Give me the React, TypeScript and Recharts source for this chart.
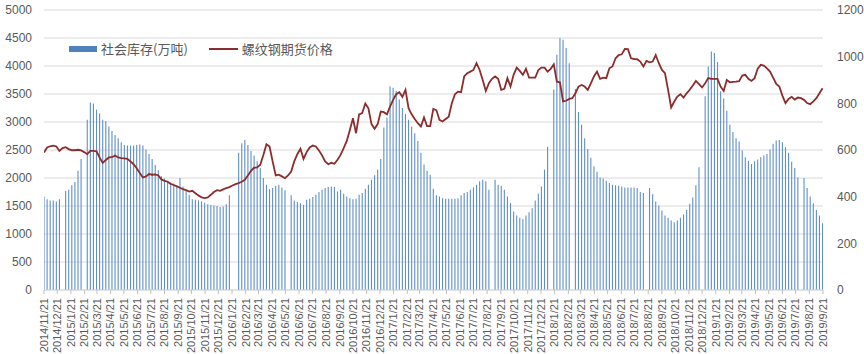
// Chart: weekly social steel inventory (bars, left axis) vs rebar futures price (line, right axis).

import { Bar, CartesianGrid, ComposedChart, Line, XAxis, YAxis } from "recharts";

const START = Date.UTC(2014, 10, 21);
const DAY = 86400000;

// 社会库存(万吨), weekly, one array per year; null = week not reported
const inv2014 = [1670, 1620, 1600, 1600, 1580, 1620];
const inv2015 = [
  null, 1770, 1790, 1870, 1930, 2130, 2340, null, 3040, 3350, 3330, 3220, 3150,
  3040, 3020, 2920, 2840, 2770, 2710, 2640, 2590, 2580, 2580, 2580, 2590, 2600,
  2580, 2510, 2430, 2340, 2230, 2140, 2030, 1990, 1950, 1920, 1900, 1870, 2000,
  1850, 1790, 1700, 1620, 1610, 1600, 1580, 1560, 1530, 1520, 1510, 1500, 1480,
];
const inv2016 = [
  1490, 1530, 1690, null, null, 2450, 2620, 2680, 2590, 2480, 2400, 2300, 2180,
  2000, 1880, 1800, 1820, 1860, 1880, 1830, 1780, null, 1690, 1600, 1570, 1550,
  1520, 1610, 1630, 1660, 1700, 1750, 1790, 1820, 1840, 1850, 1840, 1760, 1790,
  1720, 1670, 1640, 1620, 1630, 1700, 1730, 1810, 1880, 1970, 2050, 2150, 2340,
  2900,
];
const inv2017 = [
  3080, 3640, 3610, 3560, 3400, 3250, 3140, 3040, 2920, 2800, 2660, 2450, 2240,
  2130, 2060, 1810, 1690, 1670, 1640, 1630, 1630, 1630, 1630, 1640, 1690, 1730,
  1750, 1790, 1830, 1880, 1940, 1970, 1940, 1790, null, 1970, 1880, 1860, 1790,
  1670, 1550, 1400, 1330, 1290, 1270, 1330, 1390, 1460, 1600, 1720, 1850, 2150,
];
const inv2018 = [
  2560, null, 3580, 4200, 4500, 4470, 4320, 4050, null, 3590, 3180, 2950, 2710,
  2520, 2360, 2210, 2110, 2010, 1990, 1950, 1910, 1880, 1870, 1860, 1850, 1830,
  1830, 1830, 1830, 1820, 1750, 1730, null, 1820, 1710, 1580, 1510, 1420, 1330,
  1290, 1240, 1210, 1240, 1290, 1350, 1430, 1540, 1650, 1870, 2190, null, 3460,
];
const inv2019 = [
  3990, 4260, 4230, 4070, 3550, 3420, 3200, 2950, 2820, 2710, 2650, 2490, 2370,
  2310, 2250, 2300, 2330, 2370, 2400, 2430, 2510, 2610, 2670, 2680, 2640, 2550,
  2450, 2290, 2180, 2010, null, 2000, 1820, 1670, 1550, 1430, 1330, 1190,
];

// 螺纹钢期货价格, weekly, same weeks
const price2014 = [589, 611, 616, 619, 615, 596];
const price2015 = [
  608, 612, 604, 599, 599, 601, 598, 591, 582, 596, 596, 594, 568, 545, 557, 568,
  569, 576, 568, 565, 564, 562, 551, 539, 522, 501, 482, 487, 497, 494, 495, 491,
  474, 468, 464, 455, 450, 444, 438, 432, 428, 422, 425, 415, 405, 397, 394, 397,
  408, 420, 428, 425,
];
const price2016 = [
  431, 437, 441, 448, 454, 458, 464, 472, 491, 511, 524, 525, 537, 579, 625, 615,
  551, 491, 494, 487, 479, 491, 508, 551, 582, 605, 562, 591, 611, 619, 615, 598,
  577, 551, 539, 545, 541, 558, 579, 608, 639, 686, 736, 672, 753, 758, 799, 779,
  711, 691, 711, 765, 762,
];
const price2017 = [
  753, 786, 815, 839, 848, 828, 858, 779, 753, 733, 715, 701, 739, 702, 702, 776,
  771, 729, 722, 733, 743, 800, 839, 850, 848, 915, 929, 936, 943, 972, 943, 900,
  853, 886, 905, 915, 905, 858, 862, 908, 872, 922, 953, 939, 922, 948, 910, 910,
  910, 943, 953, 953,
];
const price2018 = [
  936, 948, 967, 893, 890, 808, 811, 819, 822, 843, 872, 879, 872, 858, 886, 915,
  936, 905, 910, 908, 950, 958, 993, 1007, 1010, 1033, 1032, 993, 990, 989, 979,
  958, 982, 976, 979, 1007, 972, 943, 929, 858, 782, 808, 829, 839, 825, 843, 858,
  876, 896, 882, 868, 886,
];
const price2019 = [
  908, 905, 905, 905, 872, 853, 900, 890, 892, 893, 895, 919, 922, 905, 896, 908,
  948, 965, 962, 950, 936, 910, 883, 872, 833, 801, 819, 828, 816, 825, 822, 815,
  801, 796, 808, 822, 843, 865,
];

const leftTicks = [0, 500, 1000, 1500, 2000, 2500, 3000, 3500, 4000, 4500, 5000];
const rightTicks = [0, 200, 400, 600, 800, 1000, 1200];

const inventory = [...inv2014, ...inv2015, ...inv2016, ...inv2017, ...inv2018, ...inv2019];
const price = [...price2014, ...price2015, ...price2016, ...price2017, ...price2018, ...price2019];

const data = inventory.map((v, i) => ({ d: i * 7, inv: v, price: price[i] }));

// one tick on the 21st of every month, 2014/11 .. 2019/9
const monthTicks = Array.from({ length: 59 }, (_, k) => (Date.UTC(2014, 10 + k, 21) - START) / DAY);

const fmtDate = (d: number) => {
  const dt = new Date(START + d * DAY);
  return `${dt.getUTCFullYear()}/${dt.getUTCMonth() + 1}/${dt.getUTCDate()}`;
};

const FONT = '"Liberation Sans", Arial, "Noto Sans CJK SC", sans-serif';
const GREY = "#595959";
const BLUE = "#4f81bd";
const RED = "#8b2d2d";

function DateTick({ x, payload }: any) {
  return (
    <text
      x={x}
      y={298}
      transform={`rotate(-90, ${x}, 298)`}
      textAnchor="end"
      dy="0.35em"
      fontSize={11}
      fill={GREY}
      fontFamily={FONT}
    >
      {fmtDate(payload.value)}
    </text>
  );
}

export default function App() {
  return (
    <div style={{ position: "absolute", left: 0, top: 0, width: 864, height: 354, background: "#fff" }}>
      <ComposedChart width={864} height={354} data={data} margin={{ top: 10, right: 0, bottom: 0, left: 0 }}>
        <CartesianGrid vertical={false} stroke="#d9d9d9" yAxisId="left" />
        <XAxis
          type="number"
          dataKey="d"
          domain={[0, 1765]}
          ticks={monthTicks}
          interval={0}
          height={64}
          tick={<DateTick />}
          tickSize={4}
          axisLine={{ stroke: "#d9d9d9" }}
          tickLine={{ stroke: "#bfbfbf" }}
          allowDataOverflow
        />
        <YAxis
          yAxisId="left"
          width={44}
          domain={[0, 5000]}
          ticks={leftTicks}
          axisLine={false}
          tickLine={false}
          tickMargin={6}
          tick={{ fontSize: 12, fill: GREY, fontFamily: FONT }}
        />
        <YAxis
          yAxisId="right"
          orientation="right"
          width={41}
          domain={[0, 1200]}
          ticks={rightTicks}
          axisLine={false}
          tickLine={false}
          tickMargin={8}
          tick={{ fontSize: 12, fill: GREY, fontFamily: FONT, textAnchor: "start" }}
        />
        <Bar yAxisId="left" dataKey="inv" fill="#5f8fc6" barSize={1.1} isAnimationActive={false} />
        <Line
          yAxisId="right"
          dataKey="price"
          type="linear"
          stroke={RED}
          strokeWidth={1.8}
          dot={false}
          isAnimationActive={false}
        />
      </ComposedChart>
      <div
        style={{
          position: "absolute",
          left: 69,
          top: 40,
          display: "flex",
          alignItems: "center",
          fontFamily: '"Noto Sans CJK SC", sans-serif',
          fontSize: 13,
          color: GREY,
          lineHeight: "18px",
        }}
      >
        <span style={{ width: 28, height: 6, background: BLUE, marginRight: 4 }} />
        <span>社会库存(万吨)</span>
        <span style={{ width: 29, height: 2, background: RED, marginLeft: 21, marginRight: 4 }} />
        <span>螺纹钢期货价格</span>
      </div>
    </div>
  );
}
